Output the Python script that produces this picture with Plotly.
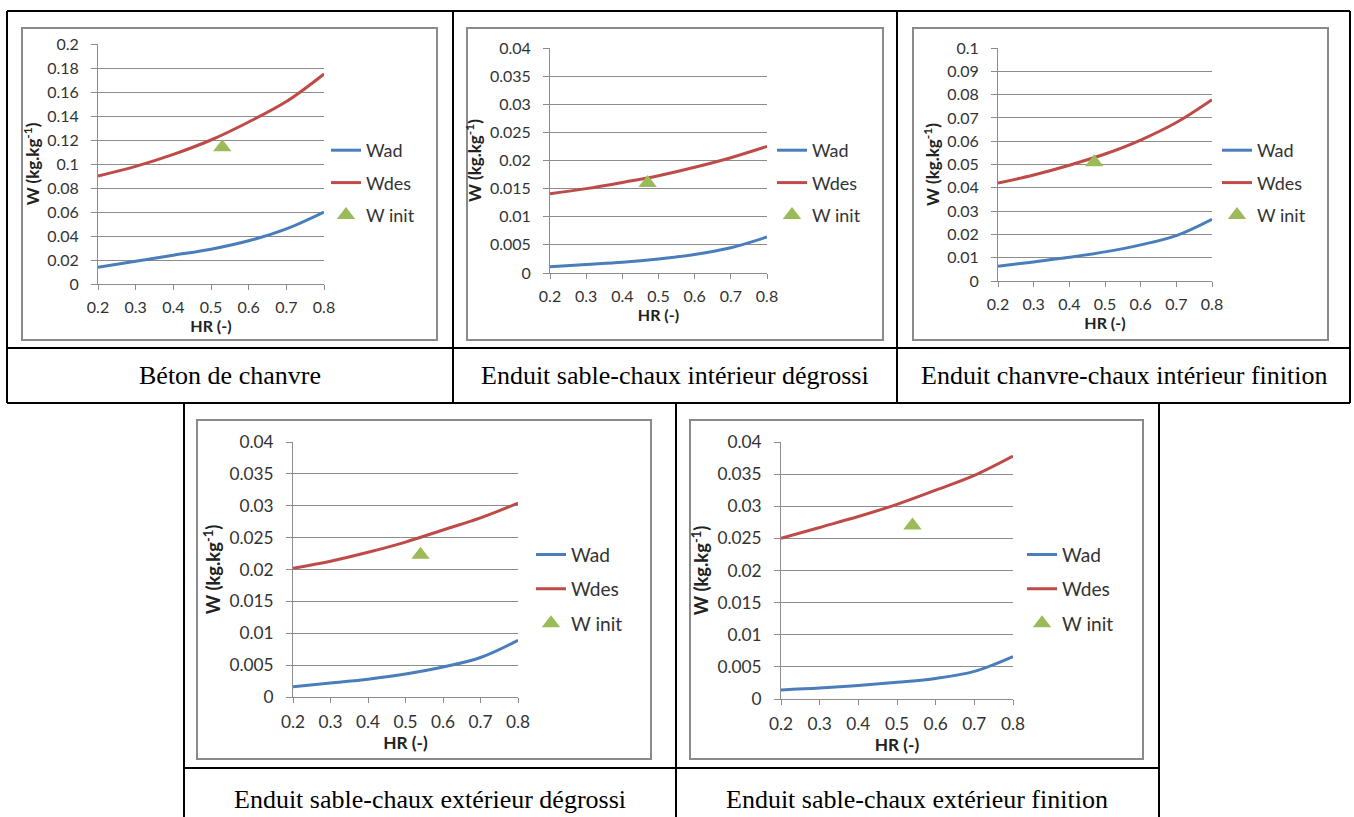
import plotly.graph_objects as go

# ---------------- data ----------------
hr = [0.2, 0.3, 0.4, 0.5, 0.6, 0.7, 0.8]

captions = [
    "Béton de chanvre",
    "Enduit sable-chaux intérieur dégrossi",
    "Enduit chanvre-chaux intérieur finition",
    "Enduit sable-chaux extérieur dégrossi",
    "Enduit sable-chaux extérieur finition",
]

wad_1 = [0.014, 0.019, 0.024, 0.029, 0.036, 0.046, 0.060]
wdes_1 = [0.090, 0.098, 0.108, 0.120, 0.135, 0.152, 0.175]
winit_1 = (0.53, 0.114)

wad_2 = [0.0011, 0.0015, 0.0019, 0.0025, 0.0033, 0.0045, 0.0064]
wdes_2 = [0.0141, 0.0150, 0.0161, 0.0173, 0.0188, 0.0205, 0.0225]
winit_2 = (0.47, 0.0160)

wad_3 = [0.0063, 0.0082, 0.0102, 0.0125, 0.0155, 0.0195, 0.0265]
wdes_3 = [0.0420, 0.0455, 0.0497, 0.0545, 0.0605, 0.0680, 0.0778]
winit_3 = (0.47, 0.051)

wad_4 = [0.0016, 0.0022, 0.0028, 0.0036, 0.0047, 0.0062, 0.0089]
wdes_4 = [0.0202, 0.0213, 0.0227, 0.0243, 0.0262, 0.0281, 0.0304]
winit_4 = (0.54, 0.0223)

wad_5 = [0.0014, 0.0017, 0.0021, 0.0026, 0.0032, 0.0043, 0.0066]
wdes_5 = [0.0250, 0.0267, 0.0284, 0.0303, 0.0325, 0.0348, 0.0378]
winit_5 = (0.54, 0.0270)

y_max = [0.2, 0.04, 0.1, 0.04, 0.04]
y_dtick = [0.02, 0.005, 0.01, 0.005, 0.005]

series = [(wad_1, wdes_1, winit_1), (wad_2, wdes_2, winit_2), (wad_3, wdes_3, winit_3),
          (wad_4, wdes_4, winit_4), (wad_5, wdes_5, winit_5)]

# ---------------- layout geometry (pixels) ----------------
W, H = 1354, 817
# plot areas: (x0, x1, ytop, ybottom)
plot_px = [(98, 324, 44, 284), (550, 767, 48, 273), (998, 1212, 48, 281),
           (293, 518, 442, 697), (781, 1013, 442, 699)]
# font scale per chart (bottom row images are slightly larger)
fscale = [1.0, 1.0, 1.0, 1.08, 1.08]
# legend left x, legend center y
legend_px = [(326, 183), (772, 183), (1217, 183), (531, 589), (1022, 589)]
# chart frames: (x0, y0, x1, y1)
frames_px = [(22, 28, 437, 340), (467, 28, 883, 340), (913, 28, 1328, 340),
             (197, 420, 651, 759), (690, 420, 1143, 759)]
caption_px = [(230, 376), (675, 376), (1124, 376), (430, 799), (917, 799)]

def px(x):
    return x / W

def py(y):
    return 1 - y / H

C_AD = "#4A7EBB"
C_DES = "#BE4B48"
C_INIT = "#9BBB59"
GRID = "#8C8C8C"
FONT = "Lato, Open Sans, sans-serif"

fig = go.Figure()
layout = dict()
shapes = []
annotations = []

for i, (wad, wdes, winit) in enumerate(series):
    s = fscale[i]
    n = "" if i == 0 else str(i + 1)
    xa, ya = "x" + n, "y" + n
    leg = "legend" + n
    tickfont = dict(family=FONT, size=16 * s, color="#333333")
    fig.add_trace(go.Scatter(x=hr, y=wad, mode="lines", name="Wad", line=dict(color=C_AD, width=3, shape="spline"),
                             xaxis=xa, yaxis=ya, legend=leg, legendgroup=f"a{i}"))
    fig.add_trace(go.Scatter(x=hr, y=wdes, mode="lines", name="Wdes", line=dict(color=C_DES, width=3, shape="spline"),
                             xaxis=xa, yaxis=ya, legend=leg, legendgroup=f"b{i}"))
    fig.add_trace(go.Scatter(x=[winit[0]], y=[winit[1]], mode="markers", name="W init",
                             marker=dict(symbol="triangle-up", size=16, color=C_INIT),
                             xaxis=xa, yaxis=ya, legend=leg, legendgroup=f"c{i}"))
    x0, x1, yt, yb = plot_px[i]
    layout["xaxis" + n] = dict(
        domain=[px(x0), px(x1)], anchor=ya, range=[0.2, 0.8], dtick=0.1, tick0=0.2,
        showgrid=False, showline=True, linecolor=GRID, linewidth=1,
        ticks="outside", ticklen=5, tickcolor=GRID, tickfont=tickfont, ticklabelstandoff=4,
        zeroline=False, fixedrange=True, automargin=False,
        title=dict(text="HR (-)", font=dict(family=FONT, size=16 * s, color="#222", weight="bold"), standoff=2),
    )
    layout["yaxis" + n] = dict(
        domain=[py(yb), py(yt)], anchor=xa, range=[0, y_max[i]], dtick=y_dtick[i], tick0=0,
        showgrid=True, gridcolor=GRID, gridwidth=1, showline=True, linecolor=GRID, linewidth=1,
        ticks="outside", ticklen=6, tickcolor=GRID, tickfont=tickfont, ticklabelstandoff=9,
        zeroline=False, fixedrange=True, automargin=False,
        title=dict(text="W (kg.kg<sup>-1</sup>)", font=dict(family=FONT, size=17 * s, color="#222", weight="bold"), standoff=3),
    )
    lx, ly = legend_px[i]
    layout[leg] = dict(
        x=px(lx), y=py(ly), xanchor="left", yanchor="middle", bgcolor="rgba(0,0,0,0)",
        font=dict(family=FONT, size=18 * (1 + (s - 1) * 0.8), color="#333333"),
        traceorder="grouped", tracegroupgap=6 * s, itemwidth=30,
    )
    fx0, fy0, fx1, fy1 = frames_px[i]
    shapes.append(dict(type="rect", xref="paper", yref="paper", x0=px(fx0), x1=px(fx1), y0=py(fy1), y1=py(fy0),
                       line=dict(color="#8A8A8A", width=2), layer="below"))
    cx, cy = caption_px[i]
    annotations.append(dict(text=captions[i], xref="paper", yref="paper", x=px(cx), y=py(cy),
                            showarrow=False, xanchor="center", yanchor="middle",
                            font=dict(family="Liberation Serif, Times New Roman, serif", size=26, color="black")))

# table borders
def line(x0, y0, x1, y1):
    shapes.append(dict(type="line", xref="paper", yref="paper", x0=px(x0), x1=px(x1), y0=py(y0), y1=py(y1),
                       line=dict(color="black", width=2)))

# row 1
line(7, 11, 1350, 11)
line(7, 348, 1350, 348)
line(7, 403, 1350, 403)
line(7, 11, 7, 403)
line(1350, 11, 1350, 403)
line(453, 11, 453, 403)
line(897, 11, 897, 403)
# row 2
line(184, 403, 184, 817)
line(676, 403, 676, 817)
line(1159, 403, 1159, 817)
line(184, 768, 1159, 768)

fig.update_layout(
    width=W, height=H, margin=dict(l=0, r=0, t=0, b=0, autoexpand=False),
    paper_bgcolor="white", plot_bgcolor="white",
    shapes=shapes, annotations=annotations, **layout,
)

fig.write_html(
    "out.html",
    config={"displayModeBar": False},
    post_script="document.body.style.margin='0';document.body.style.overflow='hidden';"
                "document.documentElement.style.overflow='hidden';",
)
